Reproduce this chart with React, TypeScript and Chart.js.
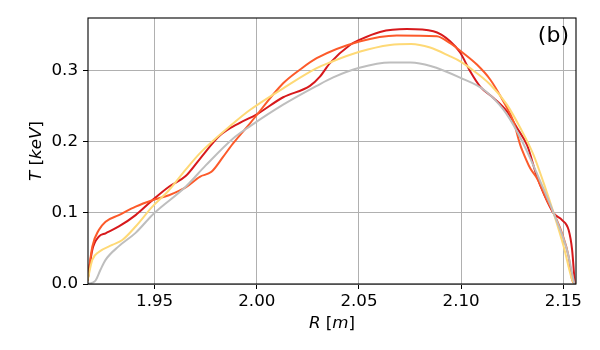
import React, { useEffect, useRef } from "react";
import { Chart, registerables } from "chart.js";
Chart.register(...registerables);

// ---- data (R in m, T in keV) ----
const grayR = [1.9172, 1.9196, 1.9211, 1.9235, 1.926, 1.9324, 1.9407, 1.9495, 1.9652, 1.975, 1.9884, 1.9966, 2.0129, 2.0293, 2.0374, 2.0502, 2.0652, 2.0752, 2.085, 2.1, 2.1109, 2.1207, 2.1273, 2.1338, 2.1391, 2.1453, 2.1518, 2.1554];
const grayT = [0.0, 0.002, 0.005, 0.02, 0.034, 0.053, 0.072, 0.099, 0.137, 0.167, 0.205, 0.222, 0.2525, 0.279, 0.291, 0.3045, 0.312, 0.3118, 0.307, 0.29, 0.274, 0.2455, 0.215, 0.177, 0.142, 0.0995, 0.048, 0.0];

const yellowR = [1.9172, 1.9195, 1.9227, 1.9293, 1.9342, 1.9407, 1.9489, 1.957, 1.9652, 1.9721, 1.9884, 1.9966, 2.0129, 2.0293, 2.0358, 2.0502, 2.0652, 2.0755, 2.0848, 2.0946, 2.0995, 2.1044, 2.1142, 2.1224, 2.1289, 2.1354, 2.1404, 2.1453, 2.1502, 2.1543, 2.1556];
const yellowT = [0.005, 0.034, 0.045, 0.055, 0.062, 0.081, 0.109, 0.132, 0.161, 0.184, 0.226, 0.245, 0.2756, 0.304, 0.312, 0.327, 0.3366, 0.338, 0.333, 0.3206, 0.3136, 0.304, 0.281, 0.2526, 0.22, 0.182, 0.142, 0.0995, 0.0526, 0.006, 0.0];

const orangeR = [1.9172, 1.9195, 1.9227, 1.926, 1.9325, 1.9407, 1.9489, 1.957, 1.9652, 1.9721, 1.9778, 1.9835, 1.9884, 1.9966, 2.0129, 2.0212, 2.0293, 2.0502, 2.0685, 2.0881, 2.0946, 2.1011, 2.1077, 2.1142, 2.1207, 2.1256, 2.1289, 2.1298, 2.1338, 2.1373, 2.142, 2.1453, 2.1494, 2.1526, 2.1543, 2.1558];
const orangeT = [0.005, 0.0526, 0.076, 0.0878, 0.097, 0.109, 0.118, 0.125, 0.136, 0.151, 0.158, 0.179, 0.198, 0.226, 0.2826, 0.302, 0.318, 0.3415, 0.35, 0.349, 0.339, 0.325, 0.309, 0.288, 0.257, 0.229, 0.196, 0.189, 0.163, 0.148, 0.118, 0.0995, 0.071, 0.0385, 0.006, 0.0];

const redR = [1.9172, 1.9195, 1.9227, 1.926, 1.9325, 1.9407, 1.9489, 1.957, 1.9652, 1.9721, 1.9819, 1.9917, 2.0, 2.0129, 2.026, 2.0309, 2.0358, 2.0456, 2.0502, 2.0603, 2.0734, 2.0864, 2.0946, 2.0995, 2.1044, 2.1093, 2.1158, 2.1224, 2.1273, 2.1322, 2.1331, 2.1371, 2.1403, 2.1453, 2.1494, 2.1526, 2.1543, 2.1556];
const redT = [0.005, 0.048, 0.0667, 0.0714, 0.081, 0.097, 0.118, 0.137, 0.152, 0.176, 0.209, 0.227, 0.239, 0.263, 0.279, 0.292, 0.311, 0.3366, 0.3437, 0.355, 0.359, 0.356, 0.342, 0.326, 0.2995, 0.278, 0.262, 0.243, 0.22, 0.196, 0.189, 0.151, 0.128, 0.0995, 0.09, 0.076, 0.048, 0.0];

const xTickValues = [1.95, 2.0, 2.05, 2.1, 2.15];
const xTickLabels = ["1.95", "2.00", "2.05", "2.10", "2.15"];
const yTickValues = [0.0, 0.1, 0.2, 0.3];
const yTickLabels = ["0.0", "0.1", "0.2", "0.3"];
const xMin = 1.9174;
const xMax = 2.1562;
const yMin = 0;
const yMax = 0.3746;

const seriesColors = ["#bebebe", "#fed976", "#fc5a2a", "#d7191c"];
const panelLabel = "(b)";

const FONT = "DejaVu Sans";
const FS = 16.7;

function pts(r: number[], t: number[]) {
  return r.map((v, i) => ({ x: v, y: t[i] }));
}

function drawMixed(ctx: CanvasRenderingContext2D, parts: { t: string; i: boolean }[]) {
  let total = 0;
  const widths = parts.map((p) => {
    ctx.font = `${p.i ? "italic " : ""}${FS}px "${FONT}"`;
    const w = ctx.measureText(p.t).width;
    total += w;
    return w;
  });
  let x = -total / 2;
  parts.forEach((p, k) => {
    ctx.font = `${p.i ? "italic " : ""}${FS}px "${FONT}"`;
    ctx.fillText(p.t, x, 0);
    x += widths[k];
  });
}

const decorPlugin = {
  id: "decor",
  afterDraw(chart: any) {
    const { ctx, chartArea } = chart;
    const { left, right, top, bottom } = chartArea;
    ctx.save();
    ctx.strokeStyle = "#000";
    ctx.lineWidth = 1.1;
    ctx.strokeRect(left, top, right - left, bottom - top);
    ctx.fillStyle = "#000";
    ctx.textAlign = "left";
    ctx.textBaseline = "alphabetic";
    // x title
    ctx.save();
    ctx.translate((left + right) / 2, 328);
    drawMixed(ctx, [
      { t: "R", i: true },
      { t: " [", i: false },
      { t: "m", i: true },
      { t: "]", i: false },
    ]);
    ctx.restore();
    // y title
    ctx.save();
    ctx.translate(41, (top + bottom) / 2);
    ctx.rotate(-Math.PI / 2);
    drawMixed(ctx, [
      { t: "T", i: true },
      { t: " [", i: false },
      { t: "keV", i: true },
      { t: "]", i: false },
    ]);
    ctx.restore();
    // panel label
    ctx.font = `22px "${FONT}"`;
    ctx.textAlign = "right";
    ctx.fillText(panelLabel, right - 7, top + 24);
    ctx.restore();
  },
};

export default function App() {
  const ref = useRef<HTMLCanvasElement>(null);
  useEffect(() => {
    const c = ref.current;
    if (!c) return;
    const mk = (r: number[], t: number[], color: string) => ({
      data: pts(r, t),
      borderColor: color,
      borderWidth: 2,
      pointRadius: 0,
      fill: false,
      cubicInterpolationMode: "monotone" as const,
    });
    const chart = new Chart(c, {
      type: "line",
      data: {
        datasets: [
          mk(grayR, grayT, seriesColors[0]),
          mk(yellowR, yellowT, seriesColors[1]),
          mk(orangeR, orangeT, seriesColors[2]),
          mk(redR, redT, seriesColors[3]),
        ],
      },
      options: {
        responsive: false,
        animation: false,
        layout: { padding: { top: 18, right: 24, left: 0, bottom: 0 } },
        plugins: { legend: { display: false }, tooltip: { enabled: false } },
        scales: {
          x: {
            type: "linear",
            min: xMin,
            max: xMax,
            afterFit: (s: any) => {
              s.height = 66;
            },
            afterBuildTicks: (s: any) => {
              s.ticks = xTickValues.map((v) => ({ value: v }));
            },
            ticks: {
              callback: (_v: any, i: number) => xTickLabels[i],
              color: "#000",
              font: { family: FONT, size: FS },
              padding: 3,
              maxRotation: 0,
            },
            grid: { color: "#b0b0b0", lineWidth: 1, tickColor: "#000", tickLength: 5 },
            border: { display: false },
          },
          y: {
            type: "linear",
            min: yMin,
            max: yMax,
            afterFit: (s: any) => {
              s.width = 88;
            },
            afterBuildTicks: (s: any) => {
              s.ticks = yTickValues.map((v) => ({ value: v }));
            },
            ticks: {
              callback: (_v: any, i: number) => yTickLabels[i],
              color: "#000",
              font: { family: FONT, size: FS },
              padding: 5,
            },
            grid: { color: "#b0b0b0", lineWidth: 1, tickColor: "#000", tickLength: 5 },
            border: { display: false },
          },
        },
      },
      plugins: [decorPlugin],
    });
    return () => chart.destroy();
  }, []);
  return (
    <div style={{ position: "fixed", left: 0, top: 0, width: 600, height: 350, background: "#fff" }}>
      <canvas ref={ref} width={600} height={350} />
    </div>
  );
}
